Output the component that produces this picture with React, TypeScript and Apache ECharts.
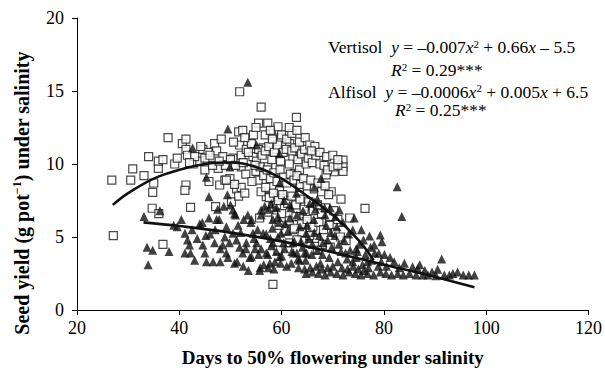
import { useEffect, useRef } from "react";
import * as echarts from "echarts";

const FONT = "'Liberation Serif', 'Times New Roman', serif";

const xTicks = [20, 40, 60, 80, 100, 120];
const yTicks = [0, 5, 10, 15, 20];

// Vertisol (open squares): [days to 50% flowering, seed yield]
const vertisolPoints: [number, number][] = [
  [26.8, 8.9], [27.1, 5.1], [30.9, 9.66], [30.5, 8.9], [33.1, 9.2], [34.0, 10.5], [34.8, 8.06], [35.0, 8.7],
  [34.7, 6.97], [36.0, 6.6], [35.9, 9.7], [35.9, 10.2], [36.8, 10.3], [36.8, 4.5], [37.8, 11.8], [39.1, 10.0],
  [39.6, 10.4], [40.6, 11.4], [41.3, 11.7], [41.3, 11.0], [41.6, 10.6], [41.3, 8.56], [41.1, 8.2], [42.2, 7.03],
  [42.7, 10.0], [44.6, 11.0], [45.0, 9.6], [45.6, 10.8], [45.8, 8.8], [46.9, 11.4], [47.1, 7.08], [47.3, 10.9],
  [47.6, 9.7], [48.2, 11.7], [48.5, 10.5], [47.9, 8.56], [48.9, 8.9], [49.9, 9.0], [50.5, 10.4], [50.2, 7.4],
  [51.2, 8.3], [51.6, 7.8], [52.1, 8.4], [52.8, 8.0], [51.8, 14.95], [51.6, 12.2], [52.4, 12.3], [51.8, 11.3],
  [52.1, 10.6], [52.1, 9.8], [53.1, 11.0], [54.1, 11.4], [54.4, 10.5], [55.1, 10.2], [55.4, 8.9], [56.0, 13.9],
  [55.5, 12.8], [57.3, 12.8], [58.0, 12.1], [59.3, 12.55], [62.9, 13.2], [58.3, 1.76], [55.7, 6.3], [57.0, 7.76],
  [58.3, 7.08], [59.0, 7.2], [59.6, 8.2], [60.9, 7.5], [57.3, 9.8], [56.4, 11.1], [59.0, 11.0], [59.9, 11.8],
  [61.6, 11.4], [62.2, 10.5], [62.5, 9.36], [63.5, 9.6], [63.5, 8.4], [64.8, 10.0], [64.5, 7.1], [63.5, 6.4],
  [62.2, 5.5], [64.8, 6.05], [61.6, 4.6], [64.2, 4.8], [59.3, 4.1],
  [72.0, 10.27], [72.0, 9.8], [72.0, 9.5], [70.3, 9.47], [68.7, 9.25], [65.8, 10.8], [69.7, 8.1], [71.6, 7.6],
  [76.3, 6.96], [73.3, 6.3], [72.6, 4.75],
  [55.5, 11.0], [56.2, 10.6], [56.8, 10.9], [57.5, 11.2], [58.1, 10.3], [58.6, 10.8], [59.2, 11.3], [59.8, 10.2],
  [60.3, 10.8], [60.9, 11.0], [61.5, 10.0], [62.0, 10.9], [62.6, 11.1], [63.2, 10.3], [63.9, 10.7], [64.5, 11.0],
  [65.2, 10.4], [66.0, 10.1], [66.7, 10.6], [67.5, 10.0], [68.3, 9.9], [69.0, 9.6], [70.1, 9.8], [71.0, 9.9],
  [55.0, 9.5], [55.8, 9.8], [56.5, 9.2], [57.2, 9.6], [57.8, 9.0], [58.5, 9.4], [59.1, 8.8], [59.7, 9.6],
  [60.4, 9.1], [61.0, 8.7], [61.7, 9.3], [62.4, 8.9], [63.0, 9.2], [63.7, 8.6], [64.3, 9.0], [65.0, 8.5],
  [65.7, 8.9], [66.4, 8.3], [67.1, 8.7], [67.8, 8.1], [68.5, 8.5], [69.2, 7.9],
  [56.0, 8.1], [56.9, 8.4], [57.6, 7.7], [58.4, 8.0], [59.4, 7.5], [60.2, 7.9], [61.2, 7.3], [62.0, 7.8],
  [62.8, 7.2], [63.6, 7.6], [64.4, 6.9], [65.3, 7.4], [66.2, 6.8], [67.0, 7.2], [67.8, 6.6], [68.6, 7.0],
  [69.4, 6.4], [70.2, 6.8], [71.0, 6.2],
  [57.5, 6.7], [58.8, 6.3], [60.0, 6.6], [61.5, 6.1], [62.8, 6.4], [63.9, 5.9], [65.0, 6.2], [66.1, 5.7],
  [67.3, 6.0], [68.2, 5.5], [69.3, 5.8], [70.5, 5.3], [66.8, 4.9], [68.0, 4.5], [65.5, 5.1], [64.0, 5.3],
  [62.5, 5.6], [60.8, 5.4], [59.5, 5.8], [67.0, 4.1], [69.5, 4.3], [71.5, 5.0], [63.0, 4.8],
  [49.0, 9.9], [50.0, 10.3], [51.0, 9.9], [52.5, 10.1], [53.5, 10.8], [54.8, 9.9], [53.0, 9.3], [54.2, 8.8],
  [50.8, 8.6], [49.2, 8.9], [46.5, 9.9], [44.0, 10.2], [43.0, 10.5], [42.0, 10.1], [45.0, 10.4], [44.2, 11.2],
  [46.0, 10.6], [47.8, 10.2], [50.6, 11.5], [52.8, 11.8], [54.5, 12.0], [56.8, 12.0], [58.2, 11.7], [60.0, 12.0],
  [61.0, 11.7], [62.0, 12.1], [63.5, 11.5], [64.6, 11.8], [65.5, 11.3], [66.5, 11.2], [55.0, 12.5], [57.8, 12.3],
  [61.5, 12.5], [63.0, 12.3], [65.8, 10.9], [67.5, 10.8], [68.8, 10.5], [70.0, 10.6], [71.0, 10.3],
];

// Alfisol (filled triangles)
const alfisolPoints: [number, number][] = [
  [33.1, 6.4], [33.7, 4.3], [34.8, 4.1], [33.9, 3.1], [36.2, 6.8], [38.0, 4.0], [38.9, 5.8], [39.6, 5.7],
  [40.4, 6.2], [41.1, 5.25], [41.6, 4.8], [42.0, 4.45], [41.1, 3.9], [42.2, 3.9], [42.6, 11.1], [44.6, 4.45],
  [45.0, 3.9], [45.3, 3.3], [45.2, 5.1], [45.8, 7.76], [45.8, 6.3], [45.3, 9.1], [46.6, 3.3], [46.9, 4.6],
  [47.3, 6.2], [47.8, 6.2], [48.0, 3.3], [48.5, 4.45], [48.9, 5.0], [49.2, 5.7], [49.2, 3.9], [49.4, 7.9],
  [48.7, 7.1], [49.5, 12.4], [49.9, 9.8], [50.5, 6.85], [50.8, 6.6], [50.5, 5.25], [50.8, 3.2], [51.2, 4.8],
  [51.8, 4.3], [52.4, 3.9], [53.1, 4.6], [53.4, 6.5], [54.1, 6.2], [54.4, 5.25], [54.1, 3.65], [55.1, 4.6],
  [55.7, 2.7], [56.0, 6.85], [56.7, 7.1], [56.4, 5.25], [57.0, 3.9], [57.7, 3.2], [58.3, 6.2], [58.3, 4.6],
  [59.3, 6.4], [59.6, 8.7], [59.6, 10.7], [59.9, 5.25], [59.6, 3.65], [61.6, 7.2], [62.2, 4.6], [63.5, 3.4],
  [64.5, 3.9], [64.8, 2.5], [64.8, 5.25], [55.1, 11.3], [53.4, 15.6], [67.7, 9.0], [66.4, 8.4], [66.4, 7.4],
  [68.4, 7.0],
  [66.0, 2.6], [67.2, 2.5], [68.5, 2.4], [69.6, 2.6], [70.8, 2.5], [72.0, 2.4], [73.2, 2.6], [74.4, 2.5],
  [75.5, 2.4], [76.8, 2.5], [78.0, 2.4], [79.3, 2.6], [80.4, 2.5], [81.5, 2.4], [82.7, 2.5], [83.8, 2.4],
  [85.0, 2.5], [86.3, 2.4], [87.6, 2.4], [88.6, 2.4], [90.2, 2.35], [91.8, 2.4], [92.8, 2.4], [95.5, 2.4],
  [96.6, 2.4], [97.7, 2.4],
  [85.6, 2.97], [86.6, 2.85], [90.5, 2.79], [91.3, 3.5], [82.6, 8.45], [83.5, 6.4], [77.2, 5.07], [79.3, 5.14],
  [79.6, 4.68], [78.1, 4.45], [79.0, 3.88], [73.9, 5.48], [74.6, 4.2], [71.3, 6.85], [84.0, 3.2], [82.0, 3.3],
  [80.5, 3.0], [81.2, 3.6], [83.0, 2.9], [88.0, 2.7], [87.0, 3.1], [89.4, 2.6], [93.5, 2.5], [94.4, 2.6],
  [56.5, 3.1], [57.3, 3.8], [58.0, 4.4], [58.7, 3.3], [59.3, 5.0], [60.0, 3.7], [60.6, 4.2], [61.2, 5.4],
  [61.9, 3.2], [62.5, 4.7], [63.0, 3.9], [63.6, 5.7], [64.1, 4.3], [64.7, 3.4], [65.3, 4.9], [65.9, 3.8],
  [66.4, 5.3], [67.0, 4.1], [67.6, 3.2], [68.1, 4.6], [68.7, 5.8], [69.3, 3.6], [69.8, 4.3], [70.4, 5.1],
  [71.0, 3.3], [71.6, 4.0], [72.2, 4.8], [72.8, 3.5], [73.4, 4.1], [74.0, 3.0], [74.6, 3.6], [75.2, 4.5],
  [75.8, 3.1], [76.4, 3.8], [77.0, 2.9], [77.6, 3.4], [78.2, 3.9], [78.9, 3.0], [79.5, 3.3], [80.1, 3.8],
  [57.0, 5.2], [58.2, 5.6], [59.5, 6.0], [60.7, 5.9], [61.6, 6.3], [62.3, 3.9], [63.3, 2.9], [64.5, 2.8],
  [65.6, 2.9], [66.8, 3.0], [67.9, 2.8], [69.0, 2.9], [70.0, 3.0], [71.8, 2.9], [72.9, 2.8], [73.9, 3.3],
  [75.0, 2.8], [76.1, 2.7], [63.8, 4.7], [65.0, 5.8], [66.3, 6.2], [67.4, 5.1], [68.5, 6.5], [69.6, 5.3],
  [70.8, 5.7], [72.0, 6.0], [73.1, 5.2], [74.2, 6.3], [75.6, 5.5], [76.0, 4.8], [77.4, 4.3], [62.0, 4.0],
  [60.4, 4.6], [59.0, 4.0], [57.8, 4.9], [56.0, 4.2], [61.0, 3.0], [59.8, 3.2], [58.5, 2.8], [57.4, 2.9],
  [68.0, 3.8], [69.0, 4.8], [66.0, 4.5], [64.9, 3.9], [63.2, 3.5], [71.2, 4.5], [72.5, 3.9], [74.8, 4.0],
  [76.8, 3.3], [61.8, 7.0], [63.0, 6.5], [64.2, 6.8], [65.5, 7.3], [66.6, 6.9], [60.5, 7.5], [62.9, 8.0],
  [59.0, 7.0], [67.0, 7.6], [69.5, 7.0], [70.5, 6.4],
  [42.5, 5.5], [43.5, 4.9], [44.0, 5.9], [46.0, 5.2], [47.0, 5.5], [48.0, 4.2], [49.8, 4.6], [51.5, 5.8],
  [52.0, 5.3], [53.0, 4.2], [53.8, 3.6], [54.6, 4.9], [55.3, 5.5], [54.0, 6.0], [52.6, 6.2], [51.0, 6.5],
  [47.5, 6.9], [50.0, 7.2], [44.5, 6.0], [43.0, 3.4], [49.5, 3.6], [51.3, 3.3], [52.5, 3.0], [53.5, 2.7],
  [55.5, 3.8], [55.8, 2.9], [54.8, 4.2], [56.0, 6.5], [57.5, 6.9], [58.0, 7.3],
];

// Fitted curves
const vertisolFit: [number, number][] = [
  [27, 7.2], [30, 8.0], [35, 9.0], [40, 9.6], [45, 10.0], [50, 10.1], [55, 9.8], [60, 9.0], [65, 7.8],
  [70, 6.5], [75, 4.8], [78, 3.4],
];
const alfisolFit: [number, number][] = [
  [33, 6.0], [40, 5.75], [50, 5.3], [60, 4.7], [70, 3.95], [80, 3.1], [88, 2.45], [97.7, 1.55],
];

const annotationLines = [
  "Vertisol  {i|y} = –0.007{i|x}{s|2} + 0.66{i|x} – 5.5",
  "{i|R}{s|2} = 0.29***",
  "Alfisol  {i|y} = –0.0006{i|x}{s|2} + 0.005{i|x} + 6.5",
  "{i|R}{s|2} = 0.25***",
];
const annotationLeft = [328, 391, 328, 395];
const annotationTop = [38, 61, 82.5, 101];

const yTitle = "Seed yield (g pot{sup|−1}) under salinity";

export default function App() {
  const ref = useRef<HTMLDivElement>(null);
  useEffect(() => {
    if (!ref.current) return;
    const chart = echarts.init(ref.current, undefined, { renderer: "svg" });
    const rich = {
      i: { fontFamily: FONT, fontSize: 17.5, fontStyle: "italic", color: "#000", lineHeight: 18 },
      s: { fontFamily: FONT, fontSize: 11, color: "#000", verticalAlign: "top", lineHeight: 11 },
    };
    chart.setOption({
      animation: false,
      backgroundColor: "#fff",
      textStyle: { fontFamily: FONT, color: "#000" },
      title: annotationLines.map((t, k) => ({
        text: t,
        left: annotationLeft[k],
        top: annotationTop[k],
        padding: 0,
        textStyle: {
          fontFamily: FONT,
          fontSize: 17.5,
          fontWeight: "normal",
          color: "#000",
          lineHeight: 18,
          rich,
        },
      })),
      graphic: [
        {
          type: "text",
          x: 22,
          y: 193,
          rotation: Math.PI / 2,
          style: {
            text: yTitle,
            fontFamily: FONT,
            fontSize: 20,
            fontWeight: "bold",
            fill: "#000",
            align: "center",
            verticalAlign: "middle",
            lineHeight: 22,
            rich: {
              sup: {
                fontFamily: FONT,
                fontSize: 12,
                fontWeight: "bold",
                fill: "#000",
                verticalAlign: "top",
                lineHeight: 12,
              },
            },
          },
        },
      ],
      grid: { left: 77, right: 15.5, top: 18, bottom: 63, containLabel: false },
      xAxis: {
        type: "value",
        min: xTicks[0],
        max: xTicks[xTicks.length - 1],
        interval: 20,
        splitLine: { show: false },
        axisLine: { lineStyle: { color: "#000", width: 1 } },
        axisTick: { show: true, length: 5, lineStyle: { color: "#000" } },
        axisLabel: { color: "#000", fontFamily: FONT, fontSize: 18, margin: 9 },
        name: "Days to 50% flowering under salinity",
        nameLocation: "middle",
        nameGap: 38,
        nameTextStyle: { color: "#000", fontFamily: FONT, fontSize: 19, fontWeight: "bold" },
      },
      yAxis: {
        type: "value",
        min: yTicks[0],
        max: yTicks[yTicks.length - 1],
        interval: 5,
        splitLine: { show: false },
        axisLine: { show: true, lineStyle: { color: "#000", width: 1 } },
        axisTick: { show: true, length: 5, lineStyle: { color: "#000" } },
        axisLabel: { color: "#000", fontFamily: FONT, fontSize: 18, margin: 13 },
      },
      series: [
        {
          name: "Vertisol",
          type: "scatter",
          data: vertisolPoints,
          symbol: "rect",
          symbolSize: 8,
          itemStyle: { color: "#fff", borderColor: "#1a1a1a", borderWidth: 1.2 },
          z: 2,
        },
        {
          name: "Alfisol",
          type: "scatter",
          data: alfisolPoints,
          symbol: "triangle",
          symbolSize: 9,
          itemStyle: { color: "#111" },
          z: 3,
        },
        {
          name: "Vertisol fit",
          type: "line",
          data: vertisolFit,
          smooth: 0.4,
          symbol: "none",
          lineStyle: { color: "#111", width: 2.6 },
          z: 4,
        },
        {
          name: "Alfisol fit",
          type: "line",
          data: alfisolFit,
          smooth: 0.4,
          symbol: "none",
          lineStyle: { color: "#111", width: 2.6 },
          z: 4,
        },
      ],
    });
    return () => chart.dispose();
  }, []);
  return (
    <div
      ref={ref}
      style={{ position: "absolute", left: 0, top: 0, width: 605, height: 373, background: "#fff" }}
    />
  );
}
